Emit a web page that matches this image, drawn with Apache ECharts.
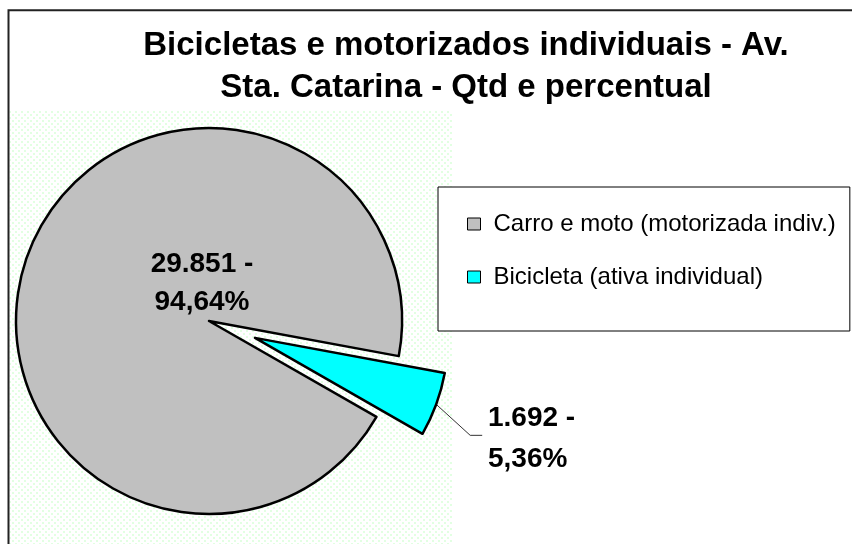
<!DOCTYPE html>
<html><head><meta charset="utf-8">
<script src="https://cdn.jsdelivr.net/npm/echarts@6/dist/echarts.min.js"></script>
<style>html,body{margin:0;padding:0;background:#fff}#c{width:852px;height:544px}</style>
</head><body><div id="c"></div>
<script>
const categories = ['Carro e moto (motorizada indiv.)', 'Bicicleta (ativa individual)'];
const values = [29851, 1692];
const colors = ['#C0C0C0', '#00FFFF'];
const titleLines = ['Bicicletas e motorizados individuais - Av.', 'Sta. Catarina - Qtd e percentual'];

const FONT = "'Liberation Sans', Arial, sans-serif";
const CENTER = [209, 321];
const RADIUS = 193;
const START_ANGLE = 330.2;
const SEL_OFFSET = 49;
const total = values.reduce((a, b) => a + b, 0);
function fmtInt(v) { return String(v).replace(/\B(?=(\d{3})+(?!\d))/g, '.'); }
function fmtPct(v) { return (v / total * 100).toFixed(2).replace('.', ','); }

// dotted background pattern
const tile = document.createElement('canvas');
tile.width = 6; tile.height = 6;
const tctx = tile.getContext('2d');
tctx.fillStyle = '#ffffff'; tctx.fillRect(0, 0, 6, 6);
tctx.fillStyle = '#e2ffe2';
tctx.fillRect(0, 0, 2, 2);
tctx.fillRect(3, 3, 2, 2);

const labelBase = {
  fontFamily: FONT, fontSize: 28, fontWeight: 'bold', color: '#000',
  formatter: p => fmtInt(p.value) + ' -\n' + fmtPct(p.value) + '%'
};

const data = categories.map((name, i) => ({
  name: name,
  value: values[i],
  selected: i === 1,
  itemStyle: { color: colors[i] },
  select: { itemStyle: { color: colors[i], borderColor: '#000', borderWidth: 2.5 } },
  label: i === 0
    ? Object.assign({}, labelBase, { position: 'center', lineHeight: 38 })
    : Object.assign({}, labelBase, { position: 'outside', lineHeight: 41, align: 'left' }),
  labelLine: i === 0 ? { show: false } : { show: true, length: 20, length2: 12, lineStyle: { color: '#333', width: 1 } }
}));

// outer mid-point of the last (bicycle) slice, in un-offset coordinates
function sliceOuterMid(idx) {
  let before = 0;
  for (let k = 0; k < idx; k++) before += values[k];
  const midFrac = (before + values[idx] / 2) / total;
  const ang = (START_ANGLE - midFrac * 360) * Math.PI / 180;
  return [CENTER[0] + Math.cos(ang) * RADIUS, CENTER[1] - Math.sin(ang) * RADIUS];
}

const chart = echarts.init(document.getElementById('c'), null, { renderer: 'canvas' });
chart.setOption({
  animation: false,
  backgroundColor: '#fff',
  title: {
    text: titleLines.join('\n'),
    left: 466, top: 25, padding: 0, textAlign: 'center',
    textStyle: { fontFamily: FONT, fontSize: 33, fontWeight: 'bold', lineHeight: 42, color: '#000' }
  },
  legend: {
    orient: 'vertical',
    left: 438, top: 187,
    padding: [25, 14, 42, 29],
    itemGap: 29,
    itemWidth: 13, itemHeight: 12,
    icon: 'rect',
    borderColor: '#000', borderWidth: 1,
    backgroundColor: '#fff',
    selectedMode: false,
    itemStyle: { borderColor: '#000', borderWidth: 1 },
    textStyle: { fontFamily: FONT, fontSize: 24, lineHeight: 22, color: '#000', padding: [0, 0, 0, 8] },
    data: categories
  },
  graphic: [
    { type: 'rect', z: -10, silent: true,
      shape: { x: 9.5, y: 110, width: 442.5, height: 440 },
      style: { fill: { image: tile, repeat: 'repeat' }, stroke: null } },
    { type: 'rect', z: 100, silent: true,
      shape: { x: 8.5, y: 10.3, width: 900, height: 600 },
      style: { fill: null, stroke: '#222', lineWidth: 2 } }
  ],
  series: [{
    type: 'pie',
    center: CENTER,
    radius: RADIUS,
    startAngle: START_ANGLE,
    clockwise: true,
    selectedMode: 'single',
    selectedOffset: SEL_OFFSET,
    avoidLabelOverlap: false,
    emphasis: { disabled: true },
    itemStyle: { borderColor: '#000', borderWidth: 2.5 },
    labelLayout: function (p) {
      if (p.dataIndex === 0) return { dx: -7, dy: -38 };
      const a = sliceOuterMid(1);
      const b = [a[0] + 34, a[1] + 31];
      const c = [b[0] + 12, b[1]];
      return { dx: 16, dy: 28, labelLinePoints: [a, b, c] };
    },
    data: data
  }]
});
</script></body></html>
